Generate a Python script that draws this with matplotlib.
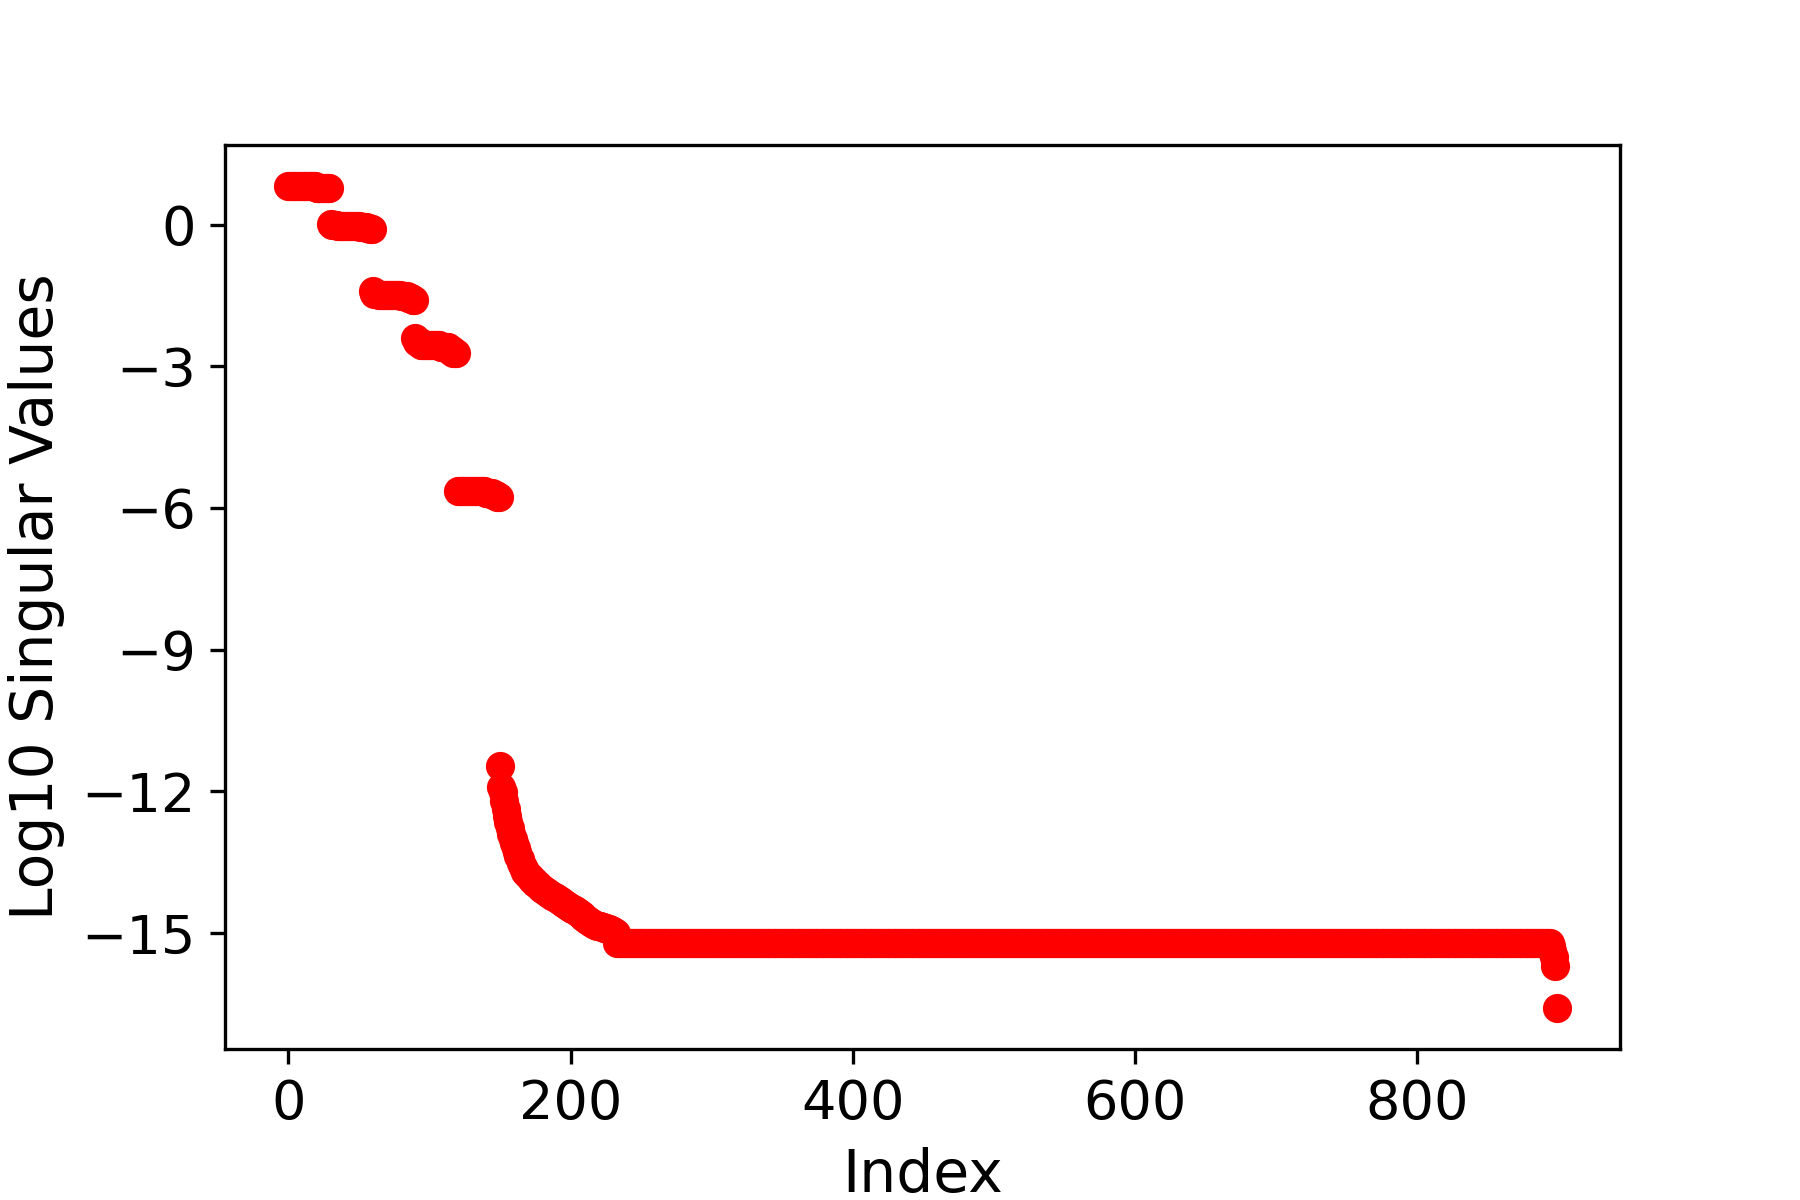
import numpy as np
import matplotlib
matplotlib.use("Agg")
import matplotlib.pyplot as plt

# log10 singular values in runs / point by point
block_1 = [0.81] * 20 + [0.78] * 10                                   # idx 0-29
block_2 = [0.02] + [0.0] * 4 + [-0.03] * 16 + [-0.05] * 5 + [-0.08] * 2 + [-0.10] * 2   # 30-59
block_3 = [-1.41] + [-1.46] * 3 + [-1.50] * 16 + [-1.52] * 5 + [-1.55] * 3 + [-1.60] * 2  # 60-89
block_4 = [-2.41] + [-2.48] * 3 + [-2.55] * 14 + [-2.60] * 6 + [-2.65] * 3 + [-2.72] * 3  # 90-119
block_5 = [-5.65] * 20 + [-5.68] * 5 + [-5.72] * 3 + [-5.76] * 2     # 120-149

tail_values = [
    -11.47, -11.90, -12.02, -12.20, -12.38, -12.52, -12.65, -12.78, -12.90, -13.00,
    -13.10, -13.20, -13.28, -13.36, -13.44, -13.52, -13.60, -13.65, -13.70, -13.74,
    -13.78, -13.81, -13.84, -13.87, -13.90, -13.93, -13.96, -13.99, -14.02, -14.05,
    -14.07, -14.09, -14.11, -14.13, -14.15, -14.17, -14.19, -14.21, -14.23, -14.24,
    -14.26, -14.28, -14.30, -14.32, -14.34, -14.36, -14.38, -14.40, -14.42, -14.44,
    -14.46, -14.48, -14.50, -14.52, -14.54, -14.56, -14.58, -14.60, -14.62, -14.65,
    -14.68, -14.70, -14.72, -14.74, -14.76, -14.78, -14.80, -14.82, -14.83, -14.84,
    -14.85, -14.86, -14.87, -14.88, -14.89, -14.90, -14.91, -14.92, -14.93, -14.94,
    -14.95, -14.97, -15.00,
]                                                                      # 150-232
floor_values = [-15.2] * 662                                           # 233-894
hook_values = [-15.28, -15.38, -15.50, -15.70]                         # 895-898
last_value = [-16.58]                                                  # 899

values = np.array(block_1 + block_2 + block_3 + block_4 + block_5
                  + tail_values + floor_values + hook_values + last_value)
index = np.arange(len(values))

fig, ax = plt.subplots(figsize=(6, 4), dpi=300)
fig.subplots_adjust(left=0.125, right=0.9, bottom=0.126, top=0.879)

ax.plot(index, values, 'o', color='red', markersize=6)

ax.set_yticks([0, -3, -6, -9, -12, -15])
ax.set_xticks([0, 200, 400, 600, 800])
ax.tick_params(labelsize=13)
ax.set_xlabel("Index", fontsize=14)
ax.set_ylabel("Log10 Singular Values", fontsize=14)

fig.savefig("out.png", dpi=300)
